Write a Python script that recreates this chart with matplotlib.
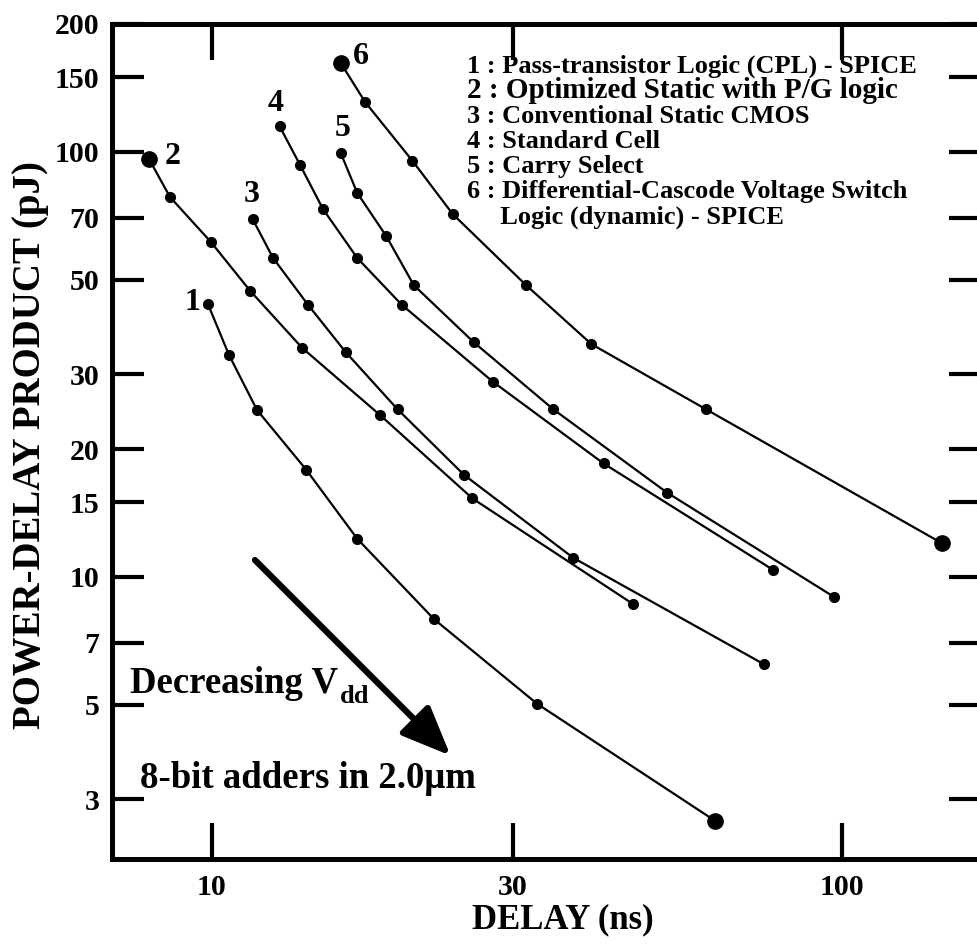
"""
Power-delay product vs. delay for 8-bit adders in 2.0um (log-log).
"""

import matplotlib
import numpy as np

matplotlib.use("Agg")
import matplotlib.pyplot as plt
from matplotlib.ticker import FixedLocator, NullLocator


FIG_W, FIG_H = 977, 944

# Delay (ns) and power-delay product (pJ)
DELAY_1 = [9.85, 10.64, 11.79, 14.1, 17.0, 22.5, 32.8, 62.8]
PDP_1 = [43.9, 33.3, 24.7, 17.9, 12.3, 7.96, 5.03, 2.67]

DELAY_2 = [7.94, 8.58, 9.96, 11.5, 13.9, 18.5, 25.9, 46.6]
PDP_2 = [96.4, 78.3, 61.4, 47.1, 34.6, 24.0, 15.3, 8.63]

DELAY_3 = [11.6, 12.5, 14.2, 16.3, 19.7, 25.1, 37.4, 75.0]
PDP_3 = [69.5, 56.3, 43.7, 33.8, 24.8, 17.4, 11.1, 6.24]

DELAY_4 = [12.8, 13.8, 15.0, 17.0, 20.0, 27.9, 41.8, 77.6]
PDP_4 = [115, 93.1, 73.4, 56.3, 43.7, 28.8, 18.5, 10.4]

DELAY_5 = [16.0, 17.0, 18.9, 20.9, 26.0, 34.8, 52.7, 97.1]
PDP_5 = [99.5, 80.1, 63.4, 48.6, 35.7, 24.8, 15.8, 8.97]

DELAY_6 = [16.0, 17.5, 20.8, 24.1, 31.5, 40.0, 60.8, 144]
PDP_6 = [162, 131, 95.3, 71.4, 48.6, 35.3, 24.8, 12.0]

SERIES_IDS = ["1", "2", "3", "4", "5", "6"]

# endpoints drawn with a larger dot in the original
BIG_DOTS = {"1": [-1], "2": [0], "6": [0, -1]}

X_TICKS = [10, 30, 100]
Y_TICKS = [200, 150, 100, 70, 50, 30, 20, 15, 10, 7, 5, 3]

LEGEND_LINES = [
    "1 : Pass-transistor Logic (CPL) - SPICE",
    "2 : Optimized Static with P/G logic",
    "3 : Conventional Static CMOS",
    "4 : Standard Cell",
    "5 : Carry Select",
    "6 : Differential-Cascode Voltage Switch",
    "     Logic (dynamic) - SPICE",
]

FONT = "Liberation Serif"


def fx(px):
    return px / FIG_W


def fy(py):
    return 1 - py / FIG_H


def main():
    plt.rcParams["font.family"] = [FONT, "DejaVu Serif"]
    plt.rcParams["font.weight"] = "bold"

    figure = plt.figure(figsize=(FIG_W / 100, FIG_H / 100), dpi=100)

    axis = figure.add_axes(
        [fx(112), fy(859), fx(981) - fx(112), fy(24) - fy(859)]
    )

    axis.set_xscale("log")
    axis.set_yscale("log")
    axis.set_xlim(6.94, 166)
    axis.set_ylim(2.17, 200)

    delays = [DELAY_1, DELAY_2, DELAY_3, DELAY_4, DELAY_5, DELAY_6]
    pdps = [PDP_1, PDP_2, PDP_3, PDP_4, PDP_5, PDP_6]

    for sid, xs, ys in zip(SERIES_IDS, delays, pdps):
        axis.plot(
            xs,
            ys,
            color="black",
            linewidth=1.6,
            marker="o",
            markersize=7,
            zorder=3,
        )

        for index in BIG_DOTS.get(sid, []):
            axis.plot(
                xs[index],
                ys[index],
                "o",
                color="black",
                markersize=11,
                zorder=4,
            )

    # series numbers next to the first point
    label_spots = {
        "1": (9.30, 44.3),
        "2": (8.67, 97.3),
        "3": (11.57, 79.3),
        "4": (12.6, 129.7),
        "5": (16.1, 113.7),
        "6": (17.2, 168),
    }

    for sid, (lx, ly) in label_spots.items():
        axis.text(
            lx,
            ly,
            sid,
            fontsize=23,
            fontweight="bold",
            ha="center",
            va="center",
        )

    # ticks
    axis.xaxis.set_major_locator(FixedLocator(X_TICKS))
    axis.xaxis.set_minor_locator(NullLocator())
    axis.set_xticklabels([str(v) for v in X_TICKS])

    axis.yaxis.set_major_locator(FixedLocator(Y_TICKS))
    axis.yaxis.set_minor_locator(NullLocator())
    axis.set_yticklabels([str(v) for v in Y_TICKS])

    axis.tick_params(
        axis="x",
        which="major",
        direction="in",
        length=26,
        width=3,
        top=True,
        bottom=True,
        labelsize=21.5,
        pad=11,
    )

    axis.tick_params(
        axis="y",
        which="major",
        direction="in",
        length=23,
        width=3,
        left=True,
        right=True,
        labelsize=21.5,
        pad=9,
    )

    for label in axis.get_xticklabels() + axis.get_yticklabels():
        label.set_fontweight("bold")

    for spine in axis.spines.values():
        spine.set_linewidth(3.6)

    # arrow for decreasing Vdd
    axis.annotate(
        "",
        xy=(23.9, 3.8),
        xytext=(11.7, 10.96),
        arrowprops=dict(
            arrowstyle="-|>,head_length=1.0,head_width=0.42",
            mutation_scale=30,
            linewidth=4.5,
            color="black",
            shrinkA=0,
            shrinkB=0,
        ),
    )

    figure.text(
        fx(130),
        fy(693),
        "Decreasing V",
        fontsize=26.5,
        fontweight="bold",
        ha="left",
        va="baseline",
    )

    figure.text(
        fx(340),
        fy(703),
        "dd",
        fontsize=19,
        fontweight="bold",
        ha="left",
        va="baseline",
    )

    figure.text(
        fx(140),
        fy(788),
        "8-bit adders in 2.0\u03bcm",
        fontsize=26.5,
        fontweight="bold",
        ha="left",
        va="baseline",
    )

    # legend block
    baselines = [73, 98, 123, 148, 173, 198, 224]

    for text, base in zip(LEGEND_LINES, baselines):
        size = 21 if text.startswith("2 :") else 19

        figure.text(
            fx(467),
            fy(base),
            text,
            fontsize=size,
            fontweight="bold",
            ha="left",
            va="baseline",
        )

    # axis titles
    figure.text(
        fx(563),
        fy(928),
        "DELAY (ns)",
        fontsize=25,
        fontweight="bold",
        ha="center",
        va="baseline",
    )

    figure.text(
        fx(31),
        fy(445),
        "POWER-DELAY PRODUCT (pJ)",
        fontsize=28,
        fontweight="bold",
        rotation=90,
        ha="center",
        va="center",
    )

    figure.savefig("out.png", dpi=100)
    plt.close(figure)


if __name__ == "__main__":
    main()
